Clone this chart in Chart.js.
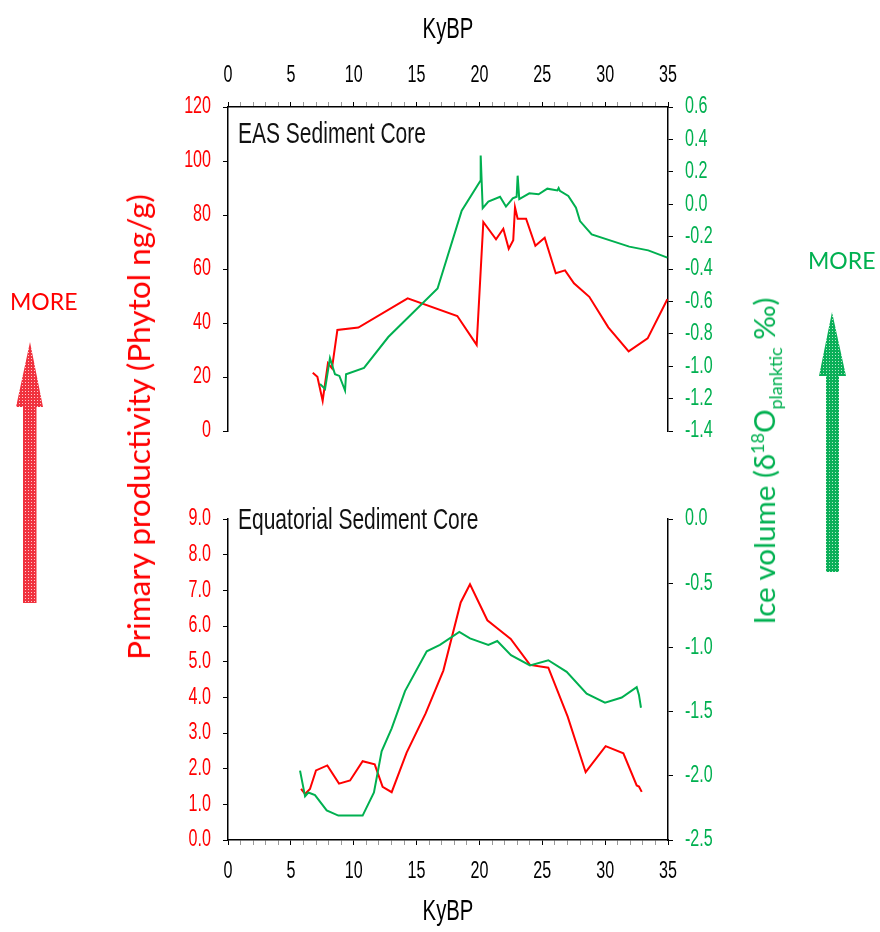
<!DOCTYPE html>
<html>
<head>
<meta charset="utf-8">
<script src="https://cdn.jsdelivr.net/npm/chart.js@4.4.1/dist/chart.umd.min.js"></script>
<style>
  body { margin: 0; background: #fff; }
  #page { position: relative; width: 880px; height: 932px; overflow: hidden; }
  #topChart { position: absolute; left: 0; top: 0; }
  #botChart { position: absolute; left: 0; top: 470px; }
  .ytitle { position: absolute; white-space: nowrap; font-family: Lato, "Open Sans", sans-serif; font-size: 31.5px;
            transform: translate(-50%, -50%) rotate(-90deg); }
  .ytitle sup, .ytitle sub { font-size: 18px; }
  .more { position: absolute; font-family: Lato, "Open Sans", sans-serif; font-size: 23px; }
  #arrows { position: absolute; left: 0; top: 0; }
</style>
</head>
<body>
<div id="page">
  <svg id="arrows" width="880" height="932">
    <defs>
      <pattern id="redDots" width="3" height="3" patternUnits="userSpaceOnUse">
        <rect width="3" height="3" fill="rgb(240,50,62)"/>
        <rect x="1" y="1" width="1" height="1" fill="rgb(255,200,205)"/>
      </pattern>
      <pattern id="greenDots" width="3" height="3" patternUnits="userSpaceOnUse">
        <rect width="3" height="3" fill="rgb(10,175,88)"/>
        <rect x="1" y="1" width="1" height="1" fill="rgb(180,232,200)"/>
      </pattern>
    </defs>
    <polygon points="30,342 43,407 36.5,407 36.5,603 23,603 23,407 16,407" fill="url(#redDots)"/>
    <polygon points="832,312 846,376 839,376 839,572 826,572 826,376 819,376" fill="url(#greenDots)"/>
  </svg>
  <canvas id="topChart" width="880" height="470"></canvas>
  <canvas id="botChart" width="880" height="462"></canvas>
  <div class="ytitle" style="left:138px; top:427px; color:#ff0000;">Primary productivity (Phytol ng/g)</div>
  <div class="ytitle" style="left:766px; top:461px; color:#00b050; font-size:29.5px;">Ice volume (δ<sup>18</sup>O<sub>planktic</sub> ‰)</div>
  <div class="more" style="left:10px; top:287px; color:#ff0000;">MORE</div>
  <div class="more" style="left:808px; top:246px; color:#00b050;">MORE</div>
</div>
<script>
// EAS core (top panel)
const easAge    = [6.74, 7.11, 7.53, 7.95, 8.27, 8.70, 10.37, 14.29, 18.24, 19.78, 20.31, 21.32, 21.90, 22.33, 22.69, 22.83, 23.04, 23.71, 24.45, 25.19, 26.07, 26.81, 27.52, 28.74, 30.25, 31.87, 33.38, 34.95];
const easPhytol = [21.6, 20.1, 11.2, 25.1, 23.2, 37.4, 38.3, 49.1, 42.6, 31.9, 77.4, 71.0, 74.9, 67.5, 70.7, 82.8, 78.6, 78.6, 68.6, 71.6, 58.4, 59.5, 54.7, 49.7, 38.4, 29.5, 34.3, 48.8];
const easIceAge = [7.32, 7.72, 8.11, 8.51, 8.86, 9.31, 9.39, 10.82, 12.75, 16.67, 18.59, 20.08, 20.10, 20.26, 20.71, 21.64, 22.11, 22.65, 22.96, 23.04, 23.17, 23.97, 24.71, 25.40, 26.20, 26.30, 26.40, 27.07, 27.68, 28.00, 28.93, 31.92, 33.43, 34.95];
const easIce    = [-1.11, -1.14, -0.95, -1.05, -1.06, -1.15, -1.05, -1.01, -0.82, -0.52, -0.04, 0.145, 0.30, -0.025, 0.016, 0.046, -0.015, 0.036, 0.046, 0.176, 0.032, 0.067, 0.061, 0.096, 0.085, 0.10, 0.082, 0.051, -0.022, -0.104, -0.186, -0.262, -0.285, -0.33];

// Equatorial core (bottom panel)
const eqAge    = [5.81, 6.13, 6.52, 7.00, 7.90, 8.83, 9.71, 10.71, 11.67, 12.30, 13.02, 14.21, 15.72, 17.13, 18.51, 19.25, 20.63, 21.37, 22.49, 24.02, 25.48, 27.02, 28.45, 30.04, 31.45, 32.51, 32.69, 32.91];
const eqPhytol = [1.43, 1.29, 1.43, 1.95, 2.09, 1.58, 1.67, 2.21, 2.12, 1.49, 1.34, 2.45, 3.55, 4.75, 6.66, 7.17, 6.16, 5.95, 5.64, 4.91, 4.83, 3.46, 1.90, 2.63, 2.43, 1.53, 1.50, 1.35];
const eqIceAge = [5.73, 6.13, 6.39, 6.92, 7.85, 8.78, 9.71, 10.71, 11.61, 12.22, 13.02, 14.08, 15.81, 16.86, 18.40, 19.25, 20.71, 21.42, 22.51, 24.02, 25.48, 26.94, 28.53, 29.99, 31.32, 32.51, 32.69, 32.85];
const eqIce    = [-1.96, -2.16, -2.13, -2.15, -2.27, -2.31, -2.31, -2.31, -2.13, -1.81, -1.63, -1.34, -1.03, -0.98, -0.88, -0.93, -0.98, -0.95, -1.06, -1.14, -1.10, -1.19, -1.36, -1.43, -1.39, -1.31, -1.37, -1.47];

const RED = "#ff0000";
const GREEN = "#00b050";
const FONT = "'Liberation Sans', Arial, sans-serif";

Chart.defaults.font.family = FONT;

// the original uses a condensed face we don't have, so squeeze all canvas text sideways
let condense = (canvas, k) => {
    let ctx = canvas.getContext("2d");
    let fill = ctx.fillText.bind(ctx);
    ctx.fillText = (text, x, y, maxWidth) => {
        ctx.save();
        ctx.translate(x, y);
        ctx.scale(k, 1);
        if (maxWidth === undefined) fill(text, 0, 0);
        else fill(text, 0, 0, maxWidth / k);
        ctx.restore();
    };
};

let pts = (xs, ys) => xs.map((x, i) => ({x: x, y: ys[i]}));
let fmt1 = v => Math.abs(v) < 1e-9 ? "0.0" : Number(v).toFixed(1);

let panelTitle = (text, y) => ({
    id: "panelTitle",
    afterDraw(chart) {
        let ctx = chart.ctx;
        ctx.save();
        ctx.font = "30px " + FONT;
        ctx.fillStyle = "#111";
        ctx.textAlign = "left";
        ctx.textBaseline = "middle";
        ctx.fillText(text, chart.chartArea.left + 10, y);
        ctx.restore();
    }
});

let xAxis = (pos, height, titlePad) => ({
    type: "linear",
    position: pos,
    min: 0,
    max: 35,
    afterFit: s => { s.height = height; },
    border: {color: "#000", width: 1.5},
    grid: {
        drawOnChartArea: false,
        tickLength: 5,
        tickColor: c => (c.tick && c.tick.value % 5 === 0) ? "#000" : "#999"
    },
    ticks: {
        stepSize: 1,
        autoSkip: false,
        maxRotation: 0,
        padding: 13,
        color: "#000",
        font: {size: 23},
        callback: v => v % 5 === 0 ? String(v) : ""
    },
    title: {display: true, text: "KyBP", color: "#000", font: {size: 29}, padding: titlePad}
});

let yAxis = (pos, min, max, step, color, width, cb) => ({
    type: "linear",
    position: pos,
    min: min,
    max: max,
    afterFit: s => { s.width = width; },
    border: {color: "#000", width: 1.5},
    grid: {drawOnChartArea: false, tickLength: 5, color: "#000"},
    ticks: {stepSize: step, padding: 12, color: color, font: {size: 23}, callback: cb}
});

let lineSet = (data, color, axis) => ({
    data: data,
    borderColor: color,
    backgroundColor: color,
    borderWidth: 2,
    pointRadius: 0,
    tension: 0,
    yAxisID: axis
});

condense(document.getElementById("topChart"), 0.7);
condense(document.getElementById("botChart"), 0.7);

new Chart(document.getElementById("topChart"), {
    type: "line",
    data: {
        datasets: [
            lineSet(pts(easIceAge, easIce), GREEN, "yR"),
            lineSet(pts(easAge, easPhytol), RED, "yL")
        ]
    },
    options: {
        responsive: false,
        animation: false,
        devicePixelRatio: 1,
        layout: {padding: {top: 0, bottom: 39, left: 0, right: 0}},
        plugins: {legend: {display: false}, tooltip: {enabled: false}},
        scales: {
            x: xAxis("top", 107, {top: 12.6, bottom: 0}),
            yL: yAxis("left", 0, 120, 20, RED, 228, v => String(v)),
            yR: yAxis("right", -1.4, 0.6, 0.2, GREEN, 212, fmt1)
        }
    },
    plugins: [panelTitle("EAS Sediment Core", 135)]
});

new Chart(document.getElementById("botChart"), {
    type: "line",
    data: {
        datasets: [
            lineSet(pts(eqIceAge, eqIce), GREEN, "yR"),
            lineSet(pts(eqAge, eqPhytol), RED, "yL")
        ]
    },
    options: {
        responsive: false,
        animation: false,
        devicePixelRatio: 1,
        layout: {padding: {top: 49, bottom: 0, left: 0, right: 0}},
        plugins: {legend: {display: false}, tooltip: {enabled: false}},
        scales: {
            x: xAxis("bottom", 92, {top: 0, bottom: 2.6}),
            yL: yAxis("left", 0, 9, 1, RED, 228, fmt1),
            yR: yAxis("right", -2.5, 0, 0.5, GREEN, 212, fmt1)
        }
    },
    plugins: [panelTitle("Equatorial Sediment Core", 51)]
});
</script>
</body>
</html>
